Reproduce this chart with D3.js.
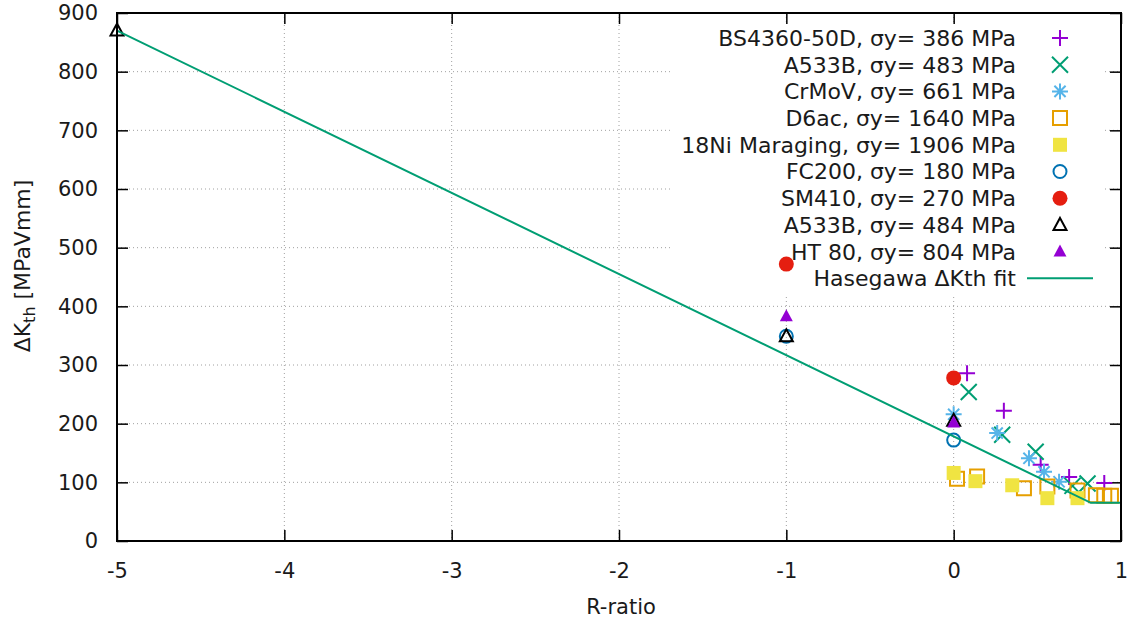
<!DOCTYPE html>
<html>
<head>
<meta charset="utf-8">
<script src="https://cdn.jsdelivr.net/npm/d3@7"></script>
<style>
	body { margin: 0; background: #fff; }
	text { font-family: "DejaVu Sans", sans-serif; fill: #1a1a1a; }
</style>
</head>
<body>
<div id="app"></div>
<script>
///////////////////////////////////////////////////////////////////////////
//////////////////////////// data /////////////////////////////////////////
///////////////////////////////////////////////////////////////////////////

const xTicks = [-5, -4, -3, -2, -1, 0, 1];
const yTicks = [0, 100, 200, 300, 400, 500, 600, 700, 800, 900];

const seriesNames = [
	"BS4360-50D, σy= 386 MPa",
	"A533B, σy= 483 MPa",
	"CrMoV, σy= 661 MPa",
	"D6ac, σy= 1640 MPa",
	"18Ni Maraging, σy= 1906 MPa",
	"FC200, σy= 180 MPa",
	"SM410, σy= 270 MPa",
	"A533B, σy= 484 MPa",
	"HT 80, σy= 804 MPa"
];

// [R-ratio, dKth]
const bs4360 = [[0.08, 286], [0.3, 222], [0.52, 130], [0.69, 109], [0.9, 99]];
const a533b483 = [[0.09, 254], [0.29, 181], [0.49, 152], [0.71, 94], [0.8, 98]];
const crmov = [[0, 216], [0.26, 184], [0.45, 141], [0.54, 118], [0.63, 101]];
const d6ac = [[0.02, 106], [0.14, 110], [0.42, 90], [0.56, 93], [0.74, 86], [0.85, 78], [0.9, 77], [0.94, 77]];
const ni18 = [[0, 116], [0.13, 102], [0.35, 95], [0.56, 73], [0.74, 73]];
const fc200 = [[-1, 349], [0, 172]];
const sm410 = [[-1, 472], [0, 278]];
const a533b484 = [[-5, 870], [-1, 349], [0, 205]];
const ht80 = [[-1, 383], [0, 202]];

const fitName = "Hasegawa ΔKth fit";
const fitLine = [[-5, 870], [0.82, 65], [1, 65]];

const seriesData = [bs4360, a533b483, crmov, d6ac, ni18, fc200, sm410, a533b484, ht80];

///////////////////////////////////////////////////////////////////////////
//////////////////////////// drawing function /////////////////////////////
///////////////////////////////////////////////////////////////////////////

const createChart = () => {
	let dimensions = {
		width: 1135,
		height: 624,
		margin: { top: 13, right: 14, bottom: 83, left: 117 }
	};
	dimensions.boundedWidth = dimensions.width - dimensions.margin.left - dimensions.margin.right;
	dimensions.boundedHeight = dimensions.height - dimensions.margin.top - dimensions.margin.bottom;

	const svg = d3.select("#app").append("svg")
		.attr("width", dimensions.width)
		.attr("height", dimensions.height);

	const bounds = svg.append("g")
		.attr("transform", `translate(${dimensions.margin.left},${dimensions.margin.top})`);

	//////////////////////////// colors / markers /////////////////////////////

	// gnuplot default line types
	const colors = ["#9400d3", "#009e73", "#56b4e9", "#e69f00", "#f0e442", "#0072b2", "#e51e10", "#000000", "#9400d3"];
	const markers = ["plus", "cross", "star", "square", "squareFill", "circle", "circleFill", "triangle", "triangleFill"];

	const markerPath = (type) => {
		const s = 8;
		const p = d3.path();
		if (type === "plus") {
			p.moveTo(-s, 0); p.lineTo(s, 0); p.moveTo(0, -s); p.lineTo(0, s);
		} else if (type === "cross") {
			p.moveTo(-s, -s); p.lineTo(s, s); p.moveTo(-s, s); p.lineTo(s, -s);
		} else if (type === "star") {
			p.moveTo(-s, 0); p.lineTo(s, 0); p.moveTo(0, -s); p.lineTo(0, s);
			p.moveTo(-s * 0.7, -s * 0.7); p.lineTo(s * 0.7, s * 0.7);
			p.moveTo(-s * 0.7, s * 0.7); p.lineTo(s * 0.7, -s * 0.7);
		} else if (type.startsWith("square")) {
			p.rect(-7, -7, 14, 14);
		} else if (type.startsWith("circle")) {
			p.arc(0, 0, type === "circleFill" ? 7.5 : 6.5, 0, 2 * Math.PI);
		} else if (type.startsWith("triangle")) {
			p.moveTo(0, -7); p.lineTo(6.5, 5); p.lineTo(-6.5, 5); p.closePath();
		}
		return p.toString();
	};
	const isFilled = (type) => type.endsWith("Fill");

	//////////////////////////// scales ///////////////////////////////////////

	const xScale = d3.scaleLinear().domain([-5, 1]).range([0, dimensions.boundedWidth]);
	const yScale = d3.scaleLinear().domain([0, 900]).range([dimensions.boundedHeight, 0]);

	//////////////////////////// grid /////////////////////////////////////////

	const grid = bounds.append("g").attr("class", "grid")
		.attr("stroke", "#a0a0a0").attr("stroke-width", 1).attr("stroke-dasharray", "1,3");
	grid.selectAll(".gx").data(xTicks.slice(1, -1)).join("line")
		.attr("x1", (d) => xScale(d)).attr("x2", (d) => xScale(d))
		.attr("y1", 0).attr("y2", dimensions.boundedHeight);
	grid.selectAll(".gy").data(yTicks.slice(1, -1)).join("line")
		.attr("x1", 0).attr("x2", dimensions.boundedWidth)
		.attr("y1", (d) => yScale(d)).attr("y2", (d) => yScale(d));

	//////////////////////////// axes /////////////////////////////////////////

	const tick = 11;
	const styleAxis = (g) => {
		g.select(".domain").remove();
		g.selectAll("line").attr("stroke", "#000").attr("stroke-width", 1.5);
		g.selectAll("text").style("font-size", "21px").attr("fill", "#1a1a1a");
	};

	// plain hyphen minus like gnuplot
	bounds.append("g")
		.attr("transform", `translate(0,${dimensions.boundedHeight})`)
		.call(d3.axisBottom(xScale).tickValues(xTicks).tickSize(-tick).tickPadding(22).tickFormat((d) => String(d)))
		.call(styleAxis);
	bounds.append("g")
		.call(d3.axisTop(xScale).tickValues(xTicks).tickSize(-tick).tickFormat(""))
		.call(styleAxis);
	bounds.append("g")
		.call(d3.axisLeft(yScale).tickValues(yTicks).tickSize(-tick).tickPadding(19))
		.call(styleAxis);
	bounds.append("g")
		.attr("transform", `translate(${dimensions.boundedWidth},0)`)
		.call(d3.axisRight(yScale).tickValues(yTicks).tickSize(-tick).tickFormat(""))
		.call(styleAxis);

	//////////////////////////// legend box (opaque) //////////////////////////

	const legend = bounds.append("g").attr("class", "legend");
	legend.append("rect")
		.attr("x", 555).attr("y", 12)
		.attr("width", 430).attr("height", 270)
		.attr("fill", "#fff");

	//////////////////////////// points ///////////////////////////////////////

	seriesData.forEach((data, i) => {
		const filled = isFilled(markers[i]);
		bounds.append("g").attr("class", "series-" + i)
			.selectAll("path").data(data).join("path")
			.attr("transform", (d) => `translate(${xScale(d[0])},${yScale(d[1])})`)
			.attr("d", markerPath(markers[i]))
			.attr("fill", filled ? colors[i] : "none")
			.attr("stroke", filled ? "none" : colors[i])
			.attr("stroke-width", 2);
	});

	//////////////////////////// fit line /////////////////////////////////////

	const line = d3.line().x((d) => xScale(d[0])).y((d) => yScale(d[1]));
	bounds.append("path")
		.datum(fitLine)
		.attr("d", line)
		.attr("fill", "none")
		.attr("stroke", "#009e73")
		.attr("stroke-width", 2);

	//////////////////////////// frame ////////////////////////////////////////

	bounds.append("rect")
		.attr("width", dimensions.boundedWidth).attr("height", dimensions.boundedHeight)
		.attr("fill", "none").attr("stroke", "#000").attr("stroke-width", 2);

	//////////////////////////// legend entries ///////////////////////////////

	const rowY = (i) => 25 + i * 26.7;
	const textX = 899;
	const symX = 943;
	const rows = legend.selectAll(".row").data(seriesNames).join("g")
		.attr("transform", (d, i) => `translate(0,${rowY(i)})`);
	rows.append("text")
		.attr("x", textX).attr("dy", "0.36em")
		.attr("text-anchor", "end")
		.style("font-size", "22px")
		.text((d) => d);
	rows.append("path")
		.attr("transform", `translate(${symX},0)`)
		.attr("d", (d, i) => markerPath(markers[i]))
		.attr("fill", (d, i) => isFilled(markers[i]) ? colors[i] : "none")
		.attr("stroke", (d, i) => isFilled(markers[i]) ? "none" : colors[i])
		.attr("stroke-width", 2);

	const fitRow = legend.append("g").attr("transform", `translate(0,${rowY(9)})`);
	fitRow.append("text")
		.attr("x", textX).attr("dy", "0.36em")
		.attr("text-anchor", "end")
		.style("font-size", "22px")
		.text(fitName);
	fitRow.append("line")
		.attr("x1", 910).attr("x2", 976)
		.attr("stroke", "#009e73").attr("stroke-width", 2);

	//////////////////////////// axis labels //////////////////////////////////

	svg.append("text")
		.attr("x", dimensions.margin.left + dimensions.boundedWidth / 2 + 2)
		.attr("y", 614)
		.attr("text-anchor", "middle")
		.style("font-size", "21px")
		.text("R-ratio");

	const yLabel = svg.append("text")
		.attr("transform", "translate(30,266) rotate(-90)")
		.attr("text-anchor", "middle")
		.style("font-size", "22px");
	yLabel.append("tspan").text("ΔK");
	yLabel.append("tspan").attr("dy", 5).style("font-size", "16px").text("th");
	yLabel.append("tspan").attr("dy", -5).text(" [MPaVmm]");
};

createChart();
</script>
</body>
</html>
